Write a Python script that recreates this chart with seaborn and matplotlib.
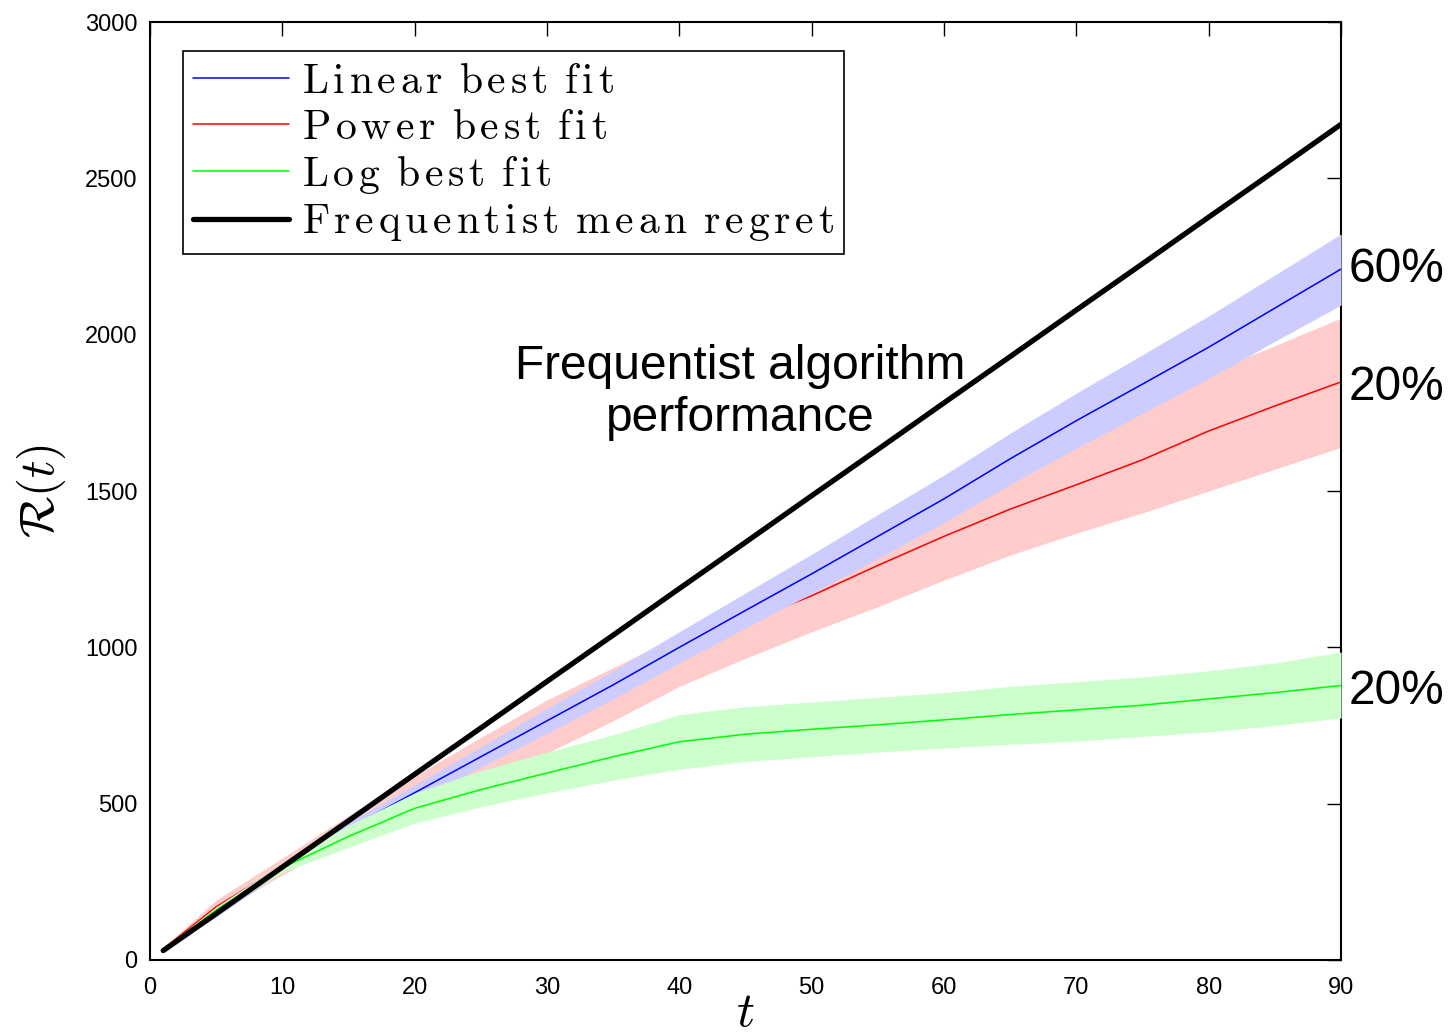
import matplotlib
matplotlib.use("Agg")
import matplotlib.pyplot as plt
import pandas as pd
import seaborn as sns
from matplotlib.lines import Line2D

# values
t = [1, 5, 10, 15, 20, 25, 30, 35, 40, 45, 50, 55, 60, 65, 70, 75, 80, 85, 90]

linear_mid = [32, 145, 295, 420, 535, 650, 765, 880, 1000, 1118, 1235, 1355, 1475, 1603, 1725, 1842, 1960, 2085, 2210]
linear_lo = [29, 137, 283, 400, 510, 618, 725, 835, 950, 1062, 1172, 1285, 1399, 1521, 1637, 1748, 1860, 1979, 2095]
linear_hi = [35, 153, 307, 440, 560, 682, 805, 925, 1050, 1174, 1298, 1425, 1551, 1685, 1813, 1936, 2060, 2191, 2322]

power_mid = [35, 170, 300, 428, 540, 655, 765, 875, 985, 1080, 1165, 1262, 1355, 1442, 1520, 1600, 1692, 1772, 1849]
power_lo = [28, 150, 272, 382, 478, 568, 662, 765, 875, 965, 1050, 1130, 1215, 1295, 1365, 1430, 1500, 1570, 1640]
power_hi = [40, 192, 326, 462, 588, 712, 832, 935, 1040, 1150, 1275, 1390, 1495, 1600, 1700, 1795, 1880, 1965, 2053]

log_mid = [32, 160, 295, 395, 485, 545, 598, 650, 698, 722, 738, 752, 768, 785, 800, 815, 835, 855, 878]
log_lo = [28, 150, 280, 360, 438, 490, 535, 575, 610, 635, 650, 665, 678, 690, 700, 715, 730, 750, 774]
log_hi = [36, 170, 310, 430, 534, 605, 665, 720, 785, 810, 825, 840, 855, 875, 890, 905, 925, 950, 985]

freq_mean = [30, 148, 297, 445, 594, 742, 891, 1039, 1188, 1336, 1485, 1633, 1782, 1930, 2079, 2227, 2376, 2524, 2673]

labels = ["Linear best fit", "Power best fit", "Log best fit", "Frequentist mean regret"]
shares = ["60%", "20%", "20%"]
share_y = [2210, 1830, 858]

df = pd.DataFrame({"t": t, "linear": linear_mid, "power": power_mid,
                   "log": log_mid, "freq": freq_mean})

sns.set_theme(style="white")
plt.rcParams["font.family"] = ["Liberation Sans", "DejaVu Sans"]
plt.rcParams["mathtext.fontset"] = "cm"
plt.rcParams["text.color"] = "black"
plt.rcParams["axes.labelcolor"] = "black"


def spaced(s):
    # LaTeX-like letter spacing for the legend entries
    words = [r"\hspace{0.13}".join(w) for w in s.split(" ")]
    return r"$\mathrm{" + r"\ \hspace{0.13}".join(words) + "}$"


fig = plt.figure(figsize=(14.52, 10.35), dpi=100)
ax = fig.add_axes([0.1033, 0.0725, 0.8203, 0.9062])

# MATLAB-like draw order: each fill then its line
ax.fill_between(t, power_lo, power_hi, color="#FFCCCC", lw=0, zorder=1)
sns.lineplot(data=df, x="t", y="power", color="#FF0000", lw=1.1, ax=ax, zorder=2)
ax.fill_between(t, linear_lo, linear_hi, color="#CCCCFF", lw=0, zorder=3)
sns.lineplot(data=df, x="t", y="linear", color="#0000FF", lw=1.1, ax=ax, zorder=4)
ax.fill_between(t, log_lo, log_hi, color="#CCFFCC", lw=0, zorder=5)
sns.lineplot(data=df, x="t", y="log", color="#00FF00", lw=1.1, ax=ax, zorder=6)
sns.lineplot(data=df, x="t", y="freq", color="black", lw=3.8, ax=ax, zorder=7)

ax.set_xlim(0, 90)
ax.set_ylim(0, 3000)
ax.set_xticks(range(0, 91, 10))
ax.set_yticks(range(0, 3001, 500))
ax.tick_params(direction="in", length=10, width=1, top=True, right=True,
               labelsize=17, colors="black")
ax.tick_params(axis="x", pad=12)
ax.tick_params(axis="y", pad=9)
for sp in ax.spines.values():
    sp.set_color("black")
    sp.set_linewidth(1.5)

ax.set_xlabel(r"$t$", fontsize=36, labelpad=-6)
ax.set_ylabel(r"$\mathcal{R}(t)$", fontsize=35, labelpad=12)

ax.text(44.6, 1815, "Frequentist algorithm\nperformance", fontsize=34.5,
        ha="center", va="center", linespacing=1.2, color="black")
for s, y in zip(shares, share_y):
    ax.text(90.6, y, s, fontsize=34.5, ha="left", va="center", color="black",
            clip_on=False)

handles = [Line2D([], [], color="#0000FF", lw=1.1),
           Line2D([], [], color="#FF0000", lw=1.1),
           Line2D([], [], color="#00FF00", lw=1.1),
           Line2D([], [], color="black", lw=3.8)]
leg = ax.legend(handles, [spaced(l) for l in labels],
                loc="upper left", bbox_to_anchor=(0.0277, 0.969), borderaxespad=0,
                fontsize=30, frameon=True, fancybox=False, edgecolor="black",
                handlelength=2.3, handletextpad=0.3, labelspacing=0.15,
                borderpad=0.25)
leg.get_frame().set_linewidth(1.2)
leg.get_frame().set_alpha(1)

fig.savefig("out.png", dpi=100)
